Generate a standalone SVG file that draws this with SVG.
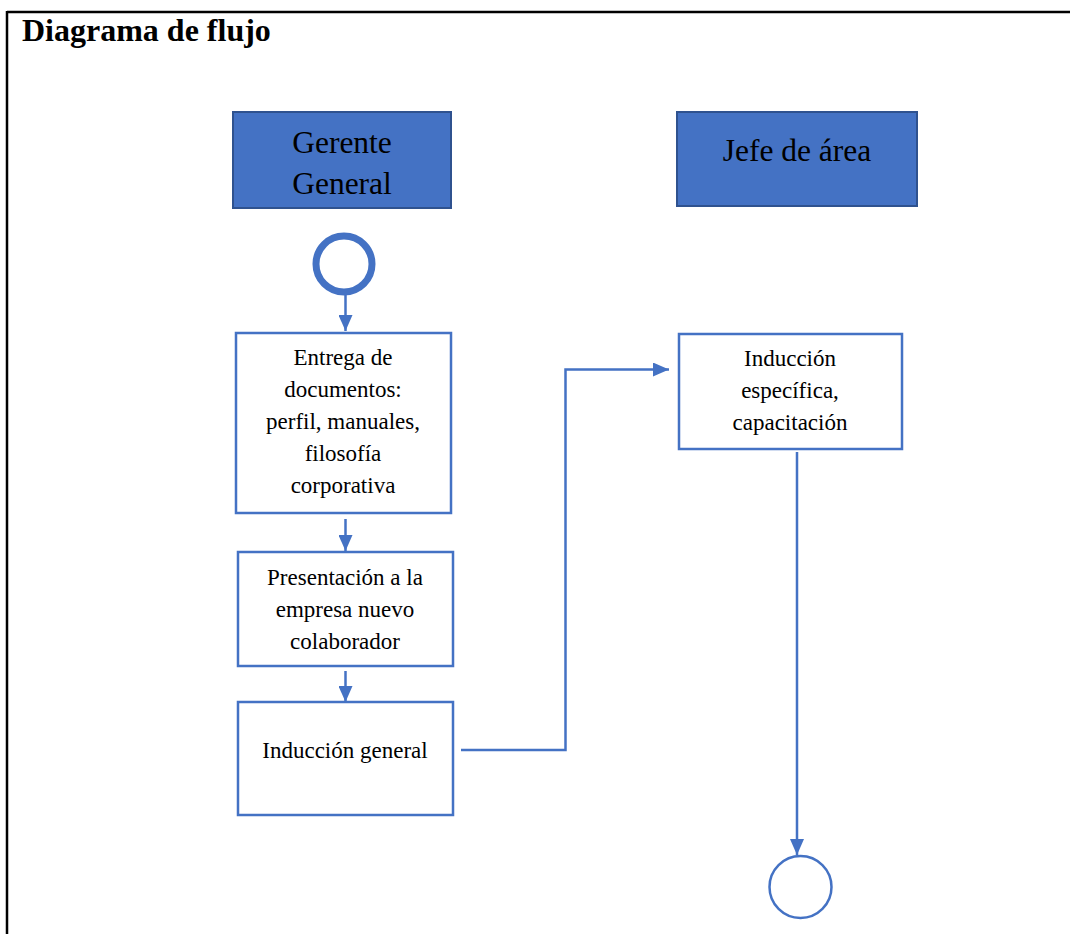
<svg xmlns="http://www.w3.org/2000/svg" width="1070" height="934" viewBox="0 0 1070 934">
<style>
.hdr{fill:#4472C4;stroke:#2F528F;stroke-width:2}
.box{fill:#fff;stroke:#4472C4;stroke-width:2.5}
.t{font-family:"Liberation Serif","Times New Roman",serif;fill:#000;text-anchor:middle}
.ht{font-size:31.5px}
.bt{font-size:23px}
.con{fill:none;stroke:#4472C4;stroke-width:2.5}
</style>
<defs>
<marker id="ah" markerWidth="16" markerHeight="14" refX="16" refY="7" orient="auto" markerUnits="userSpaceOnUse">
<path d="M0,0 L16,7 L0,14 Z" fill="#4472C4"/>
</marker>
</defs>
<rect x="0" y="0" width="1070" height="934" fill="#fff"/>
<g id="frame">
<line x1="7" y1="12" x2="1070" y2="12" stroke="#000" stroke-width="2.5"/>
<line x1="7" y1="11" x2="7" y2="934" stroke="#000" stroke-width="2.5"/>
<text x="22" y="41" font-family="Liberation Serif,'Times New Roman',serif" font-weight="bold" font-size="32" fill="#000">Diagrama de flujo</text>
</g>
<g id="lane-gerente">
<rect class="hdr" x="233" y="112" width="218" height="96"/>
<text class="t ht" x="342" y="153">Gerente</text>
<text class="t ht" x="342" y="194">General</text>
</g>
<g id="lane-jefe">
<rect class="hdr" x="677" y="112" width="240" height="94"/>
<text class="t ht" x="797" y="161">Jefe de área</text>
</g>
<g id="start">
<circle cx="344" cy="264" r="28" fill="#fff" stroke="#4472C4" stroke-width="7"/>
</g>
<g id="entrega">
<rect class="box" x="236" y="333" width="215" height="180"/>
<text class="t bt" x="343" y="365">Entrega de</text>
<text class="t bt" x="343" y="397">documentos:</text>
<text class="t bt" x="343" y="429">perfil, manuales,</text>
<text class="t bt" x="343" y="461">filosofía</text>
<text class="t bt" x="343" y="493">corporativa</text>
</g>
<g id="presentacion">
<rect class="box" x="238" y="552" width="215" height="114"/>
<text class="t bt" x="345" y="585">Presentación a la</text>
<text class="t bt" x="345" y="617">empresa nuevo</text>
<text class="t bt" x="345" y="649">colaborador</text>
</g>
<g id="induccion-general">
<rect class="box" x="238" y="702" width="215" height="113"/>
<text class="t bt" x="345" y="758">Inducción general</text>
</g>
<g id="induccion-especifica">
<rect class="box" x="679" y="334" width="223" height="115"/>
<text class="t bt" x="790" y="366">Inducción</text>
<text class="t bt" x="790" y="398">específica,</text>
<text class="t bt" x="790" y="430">capacitación</text>
</g>
<g id="end">
<circle cx="800.5" cy="887" r="31" fill="#fff" stroke="#4472C4" stroke-width="2.5"/>
</g>
<g id="connectors">
<line class="con" x1="345.5" y1="294" x2="345.5" y2="331" marker-end="url(#ah)"/>
<line class="con" x1="345.5" y1="519" x2="345.5" y2="551" marker-end="url(#ah)"/>
<line class="con" x1="345.5" y1="671" x2="345.5" y2="702" marker-end="url(#ah)"/>
<polyline class="con" points="461,750 565.5,750 565.5,369.5 669,369.5" marker-end="url(#ah)"/>
<line class="con" x1="797" y1="452" x2="797" y2="855" marker-end="url(#ah)"/>
</g>
</svg>
